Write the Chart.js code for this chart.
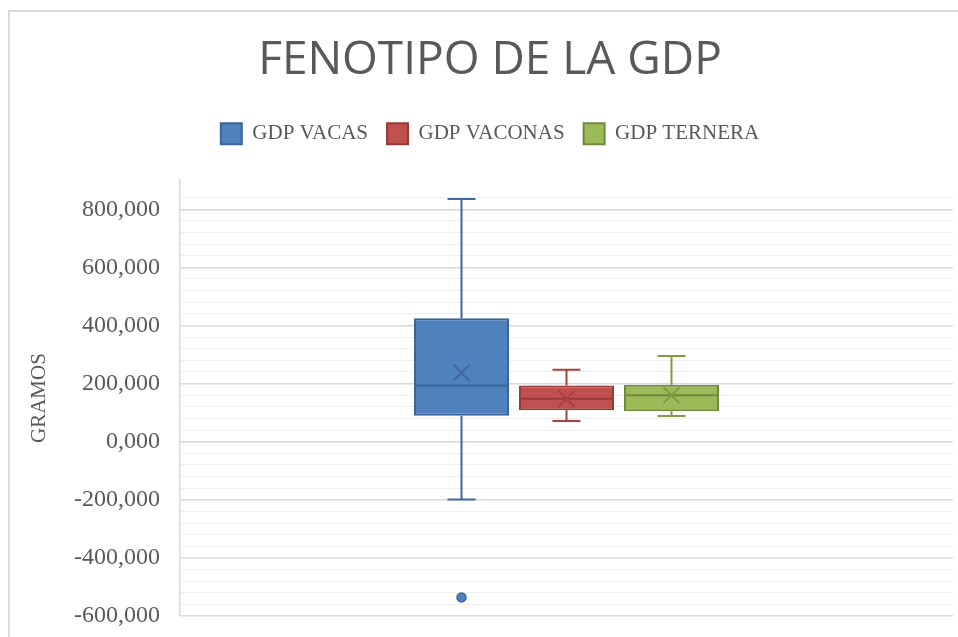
<!DOCTYPE html>
<html>
<head>
<meta charset="utf-8">
<script src="https://cdn.jsdelivr.net/npm/chart.js@4"></script>
<style>
  html, body { margin: 0; padding: 0; background: #fff; overflow: hidden; }
  .frame { position: absolute; left: 8px; top: 10px; width: 2000px; height: 2000px; border: 2px solid #dadada; }
  .wrap { position: absolute; left: 0; top: 0; width: 958px; height: 637px; }
</style>
</head>
<body>
<div class="frame"></div>
<div class="wrap"><canvas id="boxChart"></canvas></div>
<script>
// === Datos ===
const seriesNames = ['GDP VACAS', 'GDP VACONAS', 'GDP TERNERA'];
const categoryLabels = [''];
const whiskerMin = [-199, 71, 88];
const q1 = [89.5, 108, 105];
const median = [193, 148, 160];
const q3 = [425, 193, 196];
const whiskerMax = [835, 248, 295];
const mean = [237, 148, 160];
const outliers = [[-536], [], []];

// === Colores ===
const fills = ['#4F81BD', '#C0504D', '#9BBB59'];
const borders = ['#3B6596', '#953A38', '#71893F'];
const lineColors = ['#40689B', '#A8413E', '#7E9C44'];

const fmt = v => v.toFixed(3).replace('.', ',');

// legend: extra space below (like Excel)
const legendSpace = {
  id: 'legendSpace',
  beforeUpdate(chart) {
    const lg = chart.legend;
    if (lg && !lg._patched) {
      const fit = lg.fit;
      lg.fit = function () { fit.call(this); this.height += 26; };
      lg._patched = true;
    }
  }
};

// whiskers, median, mean and outliers
const boxExtras = {
  id: 'boxExtras',
  afterDatasetsDraw(chart) {
    const ctx = chart.ctx;
    const y = chart.scales.y;
    ctx.save();
    seriesNames.forEach((name, i) => {
      const bar = chart.getDatasetMeta(i).data[0];
      if (!bar) return;
      const cx = bar.x;
      const half = bar.width / 2;
      ctx.strokeStyle = lineColors[i];
      ctx.lineWidth = 2;

      // bigotes
      ctx.beginPath();
      ctx.moveTo(cx, y.getPixelForValue(q3[i]));
      ctx.lineTo(cx, y.getPixelForValue(whiskerMax[i]));
      ctx.moveTo(cx - 14, y.getPixelForValue(whiskerMax[i]));
      ctx.lineTo(cx + 14, y.getPixelForValue(whiskerMax[i]));
      ctx.moveTo(cx, y.getPixelForValue(q1[i]));
      ctx.lineTo(cx, y.getPixelForValue(whiskerMin[i]));
      ctx.moveTo(cx - 14, y.getPixelForValue(whiskerMin[i]));
      ctx.lineTo(cx + 14, y.getPixelForValue(whiskerMin[i]));
      ctx.stroke();

      // mediana
      ctx.strokeStyle = borders[i];
      ctx.beginPath();
      ctx.moveTo(cx - half + 1, y.getPixelForValue(median[i]));
      ctx.lineTo(cx + half - 1, y.getPixelForValue(median[i]));
      ctx.stroke();

      // media (X)
      const my = y.getPixelForValue(mean[i]);
      ctx.strokeStyle = lineColors[i];
      ctx.beginPath();
      ctx.moveTo(cx - 8, my - 8); ctx.lineTo(cx + 8, my + 8);
      ctx.moveTo(cx + 8, my - 8); ctx.lineTo(cx - 8, my + 8);
      ctx.stroke();

      // valores atipicos
      outliers[i].forEach(v => {
        ctx.beginPath();
        ctx.arc(cx, y.getPixelForValue(v), 4.5, 0, Math.PI * 2);
        ctx.fillStyle = fills[i];
        ctx.fill();
        ctx.lineWidth = 1.5;
        ctx.strokeStyle = borders[i];
        ctx.stroke();
      });
    });
    ctx.restore();
  }
};

const datasets = seriesNames.map((name, i) => ({
  label: name,
  data: [[q1[i], q3[i]]],
  backgroundColor: fills[i],
  borderColor: borders[i],
  borderWidth: 2,
  borderSkipped: false,
  categoryPercentage: 0.4075,
  barPercentage: 0.905
}));

const ctx = document.getElementById('boxChart').getContext('2d');
new Chart(ctx, {
  type: 'bar',
  data: { labels: categoryLabels, datasets },
  options: {
    responsive: true,
    maintainAspectRatio: false,
    animation: false,
    layout: { padding: { left: 27, right: 5, top: 13, bottom: 21 } },
    plugins: {
      tooltip: { enabled: false },
      title: {
        display: true,
        text: 'FENOTIPO DE LA GDP',
        color: '#595959',
        font: { family: 'Open Sans', size: 46, weight: 'normal' },
        padding: { top: 20, bottom: 16 }
      },
      legend: {
        position: 'top',
        labels: {
          boxWidth: 21,
          boxHeight: 21,
          padding: 19,
          color: '#595959',
          font: { family: 'Liberation Serif', size: 21 }
        }
      }
    },
    scales: {
      x: { display: false },
      y: {
        min: -600,
        max: 900,
        afterFit(scale) {
          scale.width = 153;
          scale.paddingTop = 0;
          scale.paddingBottom = 0;
        },
        border: { display: true, color: '#d9d9d9', width: 1.5 },
        grid: {
          drawTicks: false,
          color: c => {
            const v = c.tick.value;
            if (v === 900) return 'rgba(0,0,0,0)';
            return v % 200 === 0 ? '#d9d9d9' : '#efefef';
          },
          lineWidth: c => (c.tick.value % 200 === 0 ? 1.5 : 1)
        },
        ticks: {
          stepSize: 40,
          autoSkip: false,
          padding: 20,
          color: '#595959',
          font: { family: 'Liberation Serif', size: 24 },
          callback: v => (v % 200 === 0 ? fmt(v) : '')
        },
        title: {
          display: true,
          text: 'GRAMOS',
          color: '#595959',
          font: { family: 'Liberation Serif', size: 21 },
          padding: { top: 0, bottom: 0 }
        }
      }
    }
  },
  plugins: [legendSpace, boxExtras]
});
</script>
</body>
</html>
